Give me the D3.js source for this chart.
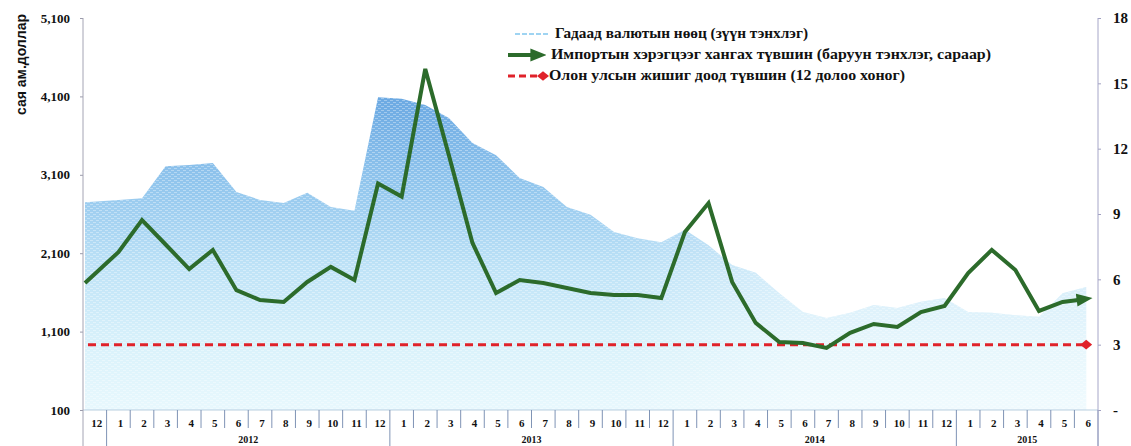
<!DOCTYPE html>
<html>
<head>
<meta charset="utf-8">
<script src="https://cdn.jsdelivr.net/npm/d3@7"></script>
<style>
  body { margin: 0; background: #fff; }
  text { font-family: "Liberation Serif", "Times New Roman", serif; font-weight: bold; fill: #111; }
</style>
</head>
<body>
<div id="chart"></div>
<script>
// months on the x axis: 2011-12 .. 2015-06
const months = ['12','1','2','3','4','5','6','7','8','9','10','11','12',
  '1','2','3','4','5','6','7','8','9','10','11','12',
  '1','2','3','4','5','6','7','8','9','10','11','12',
  '1','2','3','4','5','6']
const yearLabels = ['2012', '2013', '2014', '2015']
const yearFirst = [1, 13, 25, 37]
const yearLast = [12, 24, 36, 42]

// foreign reserves, mln USD (left axis)
const reserves = [2750, 2780, 2800, 3210, 3225, 3250, 2880, 2780, 2740, 2870, 2690, 2640,
  4090, 4070, 3990, 3825, 3505, 3350, 3060, 2945, 2690, 2590, 2370, 2290,
  2240, 2400, 2200, 1950, 1850, 1590, 1350, 1275, 1340, 1440, 1400, 1480,
  1530, 1350, 1340, 1310, 1290, 1590, 1670]

// import coverage, months (right axis)
const coverage = [5.83, 7.25, 8.72, 7.6, 6.47, 7.35, 5.5, 5.05, 4.96, 5.88, 6.57, 5.97,
  10.4, 9.8, 15.66, 11.7, 7.67, 5.37, 5.97, 5.83, 5.6, 5.37, 5.28, 5.28,
  5.14, 8.17, 9.5, 5.88, 4.0, 3.12, 3.08, 2.85, 3.54, 3.95, 3.81, 4.5,
  4.78, 6.29, 7.35, 6.43, 4.55, 4.96, 5.1]

const benchmark = 3

const leftTicks = [100, 1100, 2100, 3100, 4100, 5100]
const rightTicks = [0, 3, 6, 9, 12, 15, 18]

const legendLabels = [
  'Гадаад валютын нөөц (зүүн тэнхлэг)',
  'Импортын хэрэгцээг хангах түвшин (баруун тэнхлэг, сараар)',
  'Олон улсын жишиг доод түвшин  (12 долоо хоног)'
]

const dms = {
  width: 1131,
  height: 446,
  left: 83,
  right: 1098,
  top: 18,
  bottom: 410
}

const svg = d3.select('#chart').append('svg')
    .attr('width', dms.width)
    .attr('height', dms.height)

const defs = svg.append('defs')

const grad = defs.append('linearGradient')
    .attr('id', 'resGrad')
    .attr('gradientUnits', 'userSpaceOnUse')
    .attr('x1', 0).attr('x2', 0)
    .attr('y1', 95).attr('y2', dms.bottom)
grad.selectAll('stop')
    .data([[0, '#6aa8e2'], [0.3, '#95c8ee'], [0.55, '#bfe3f7'], [0.8, '#daf2fb'], [1, '#e8f8fd']])
    .join('stop')
    .attr('offset', d => d[0])
    .attr('stop-color', d => d[1])

// the right part of the area is paler in the original
const fade = defs.append('linearGradient')
    .attr('id', 'fade')
    .attr('gradientUnits', 'userSpaceOnUse')
    .attr('x1', 620).attr('x2', 800)
    .attr('y1', 0).attr('y2', 0)
fade.append('stop').attr('offset', 0).attr('stop-color', '#fff').attr('stop-opacity', 0)
fade.append('stop').attr('offset', 1).attr('stop-color', '#fff').attr('stop-opacity', 0.35)

const pat = defs.append('pattern')
    .attr('id', 'dots')
    .attr('patternUnits', 'userSpaceOnUse')
    .attr('width', 6).attr('height', 4)
pat.append('rect').attr('x', 0).attr('y', 0).attr('width', 3).attr('height', 1)
    .style('fill', '#fff').style('opacity', 0.35)
pat.append('rect').attr('x', 3).attr('y', 2).attr('width', 3).attr('height', 1)
    .style('fill', '#fff').style('opacity', 0.35)

defs.append('marker')
    .attr('id', 'greenArrow')
    .attr('viewBox', '0 -5 10 10')
    .attr('refX', 6).attr('refY', 0)
    .attr('markerWidth', 4).attr('markerHeight', 4)
    .attr('markerUnits', 'strokeWidth')
    .attr('orient', 'auto')
  .append('path')
    .attr('d', 'M0,-4L10,0L0,4Z')
    .style('fill', '#2c6b2b')

defs.append('marker')
    .attr('id', 'redDiamond')
    .attr('viewBox', '0 -5 10 10')
    .attr('refX', 5).attr('refY', 0)
    .attr('markerWidth', 4).attr('markerHeight', 4)
    .attr('markerUnits', 'strokeWidth')
    .attr('orient', 'auto')
  .append('path')
    .attr('d', 'M0,0L5,-4L10,0L5,4Z')
    .style('fill', '#e0222a')

const x = d3.scaleBand()
    .domain(d3.range(months.length))
    .range([dms.left, dms.right])

const cx = i => x(i) + x.bandwidth() / 2
// first point is pulled to the axis, as in the original
const px = i => i === 0 ? dms.left + 2 : cx(i)

const yL = d3.scaleLinear().domain([100, 5100]).range([dms.bottom, dms.top])
const yR = d3.scaleLinear().domain([0, 18]).range([dms.bottom, dms.top])

// reserves area
const area = d3.area()
    .x((d, i) => px(i))
    .y0(dms.bottom)
    .y1(d => yL(d))

svg.append('path')
    .datum(reserves)
    .attr('d', area)
    .style('fill', 'url(#resGrad)')
svg.append('path')
    .datum(reserves)
    .attr('d', area)
    .style('fill', 'url(#fade)')
svg.append('path')
    .datum(reserves)
    .attr('d', area)
    .style('fill', 'url(#dots)')

// x axis base line
svg.append('line')
    .attr('x1', dms.left).attr('x2', dms.right)
    .attr('y1', dms.bottom).attr('y2', dms.bottom)
    .style('stroke', '#b9cfe0').style('stroke-width', 1)

// month separators
svg.append('g')
    .selectAll('line')
    .data(d3.range(1, months.length + 1))
    .join('line')
    .attr('x1', i => x.step() * i + dms.left)
    .attr('x2', i => x.step() * i + dms.left)
    .attr('y1', dms.bottom)
    .attr('y2', i => (yearFirst.includes(i) || i === months.length) ? dms.height : 428)
    .style('stroke', '#7f93b5')
    .style('stroke-width', 1)

// month labels
const xAxis = d3.axisBottom(x)
    .tickSize(0)
    .tickPadding(9)
    .tickFormat(i => months[i])
const xg = svg.append('g')
    .attr('transform', `translate(2,${dms.bottom})`)
    .call(xAxis)
xg.select('.domain').remove()
xg.selectAll('text')
    .style('font-size', '11px')
    .style('font-family', '"Liberation Serif", serif')
    .style('font-weight', 'bold')

// year labels
svg.append('g')
    .selectAll('text')
    .data(yearLabels)
    .join('text')
    .attr('x', (d, i) => (x(yearFirst[i]) + x(yearLast[i]) + x.bandwidth()) / 2)
    .attr('y', 443)
    .attr('text-anchor', 'middle')
    .style('font-size', '10px')
    .text(d => d)

// left axis
const leftAxis = d3.axisLeft(yL)
    .tickValues(leftTicks)
    .tickSize(3)
    .tickPadding(10)
    .tickFormat(d3.format(','))
const lg = svg.append('g')
    .attr('transform', `translate(${dms.left},0)`)
    .call(leftAxis)
lg.select('.domain').remove()
lg.selectAll('line').style('stroke', '#9a9aaa')
lg.selectAll('text')
    .style('font-size', '13px')
    .style('font-family', '"Liberation Serif", serif')
    .style('font-weight', 'bold')
svg.append('line')
    .attr('x1', dms.left).attr('x2', dms.left)
    .attr('y1', dms.top).attr('y2', dms.height)
    .style('stroke', '#a4a4b4')

// right axis
const rightAxis = d3.axisRight(yR)
    .tickValues(rightTicks)
    .tickSize(3)
    .tickPadding(12)
    .tickFormat(d => d === 0 ? '-' : d)
const rg = svg.append('g')
    .attr('transform', `translate(${dms.right},0)`)
    .call(rightAxis)
rg.select('.domain').remove()
rg.selectAll('line').style('stroke', '#a0a0c0')
rg.selectAll('text')
    .style('font-size', '15px')
    .style('font-family', '"Liberation Serif", serif')
    .style('font-weight', 'bold')
svg.append('line')
    .attr('x1', dms.right).attr('x2', dms.right)
    .attr('y1', dms.top).attr('y2', dms.height)
    .style('stroke', '#a6a6c8')

// axis title
svg.append('text')
    .attr('transform', 'translate(26,14) rotate(-90)')
    .attr('text-anchor', 'end')
    .style('font-family', '"Liberation Sans", Arial, sans-serif')
    .style('font-size', '14px')
    .text('сая ам.доллар')

// benchmark line
svg.append('line')
    .attr('x1', dms.left + 5)
    .attr('x2', cx(months.length - 1))
    .attr('y1', yR(benchmark))
    .attr('y2', yR(benchmark))
    .style('stroke', '#e0222a')
    .style('stroke-width', 3)
    .style('stroke-dasharray', '8,5')
    .attr('marker-end', 'url(#redDiamond)')

// coverage line
const line = d3.line()
    .x((d, i) => px(i))
    .y(d => yR(d))

svg.append('path')
    .datum(coverage)
    .attr('d', line)
    .style('fill', 'none')
    .style('stroke', '#2c6b2b')
    .style('stroke-width', 4)
    .style('stroke-linejoin', 'miter')
    .attr('marker-end', 'url(#greenArrow)')

// legend
const legend = svg.append('g').attr('id', 'legend')
const rows = [38, 59, 80]

legend.append('line')
    .attr('x1', 515).attr('x2', 550)
    .attr('y1', rows[0] - 4).attr('y2', rows[0] - 4)
    .style('stroke', '#9fd4f2').style('stroke-width', 2)
    .style('stroke-dasharray', '5,2')
legend.append('line')
    .attr('x1', 508).attr('x2', 540)
    .attr('y1', rows[1] - 4).attr('y2', rows[1] - 4)
    .style('stroke', '#2c6b2b').style('stroke-width', 4)
    .attr('marker-end', 'url(#greenArrow)')
legend.append('line')
    .attr('x1', 508).attr('x2', 543)
    .attr('y1', rows[2] - 4).attr('y2', rows[2] - 4)
    .style('stroke', '#e0222a').style('stroke-width', 3)
    .style('stroke-dasharray', '7,4')
    .attr('marker-end', 'url(#redDiamond)')

legend.selectAll('text')
    .data(legendLabels)
    .join('text')
    .attr('x', (d, i) => [555, 551, 549][i])
    .attr('y', (d, i) => rows[i])
    .attr('textLength', (d, i) => [253, 440, 356][i])
    .attr('lengthAdjust', 'spacingAndGlyphs')
    .style('font-size', '14.5px')
    .text(d => d)
</script>
</body>
</html>
